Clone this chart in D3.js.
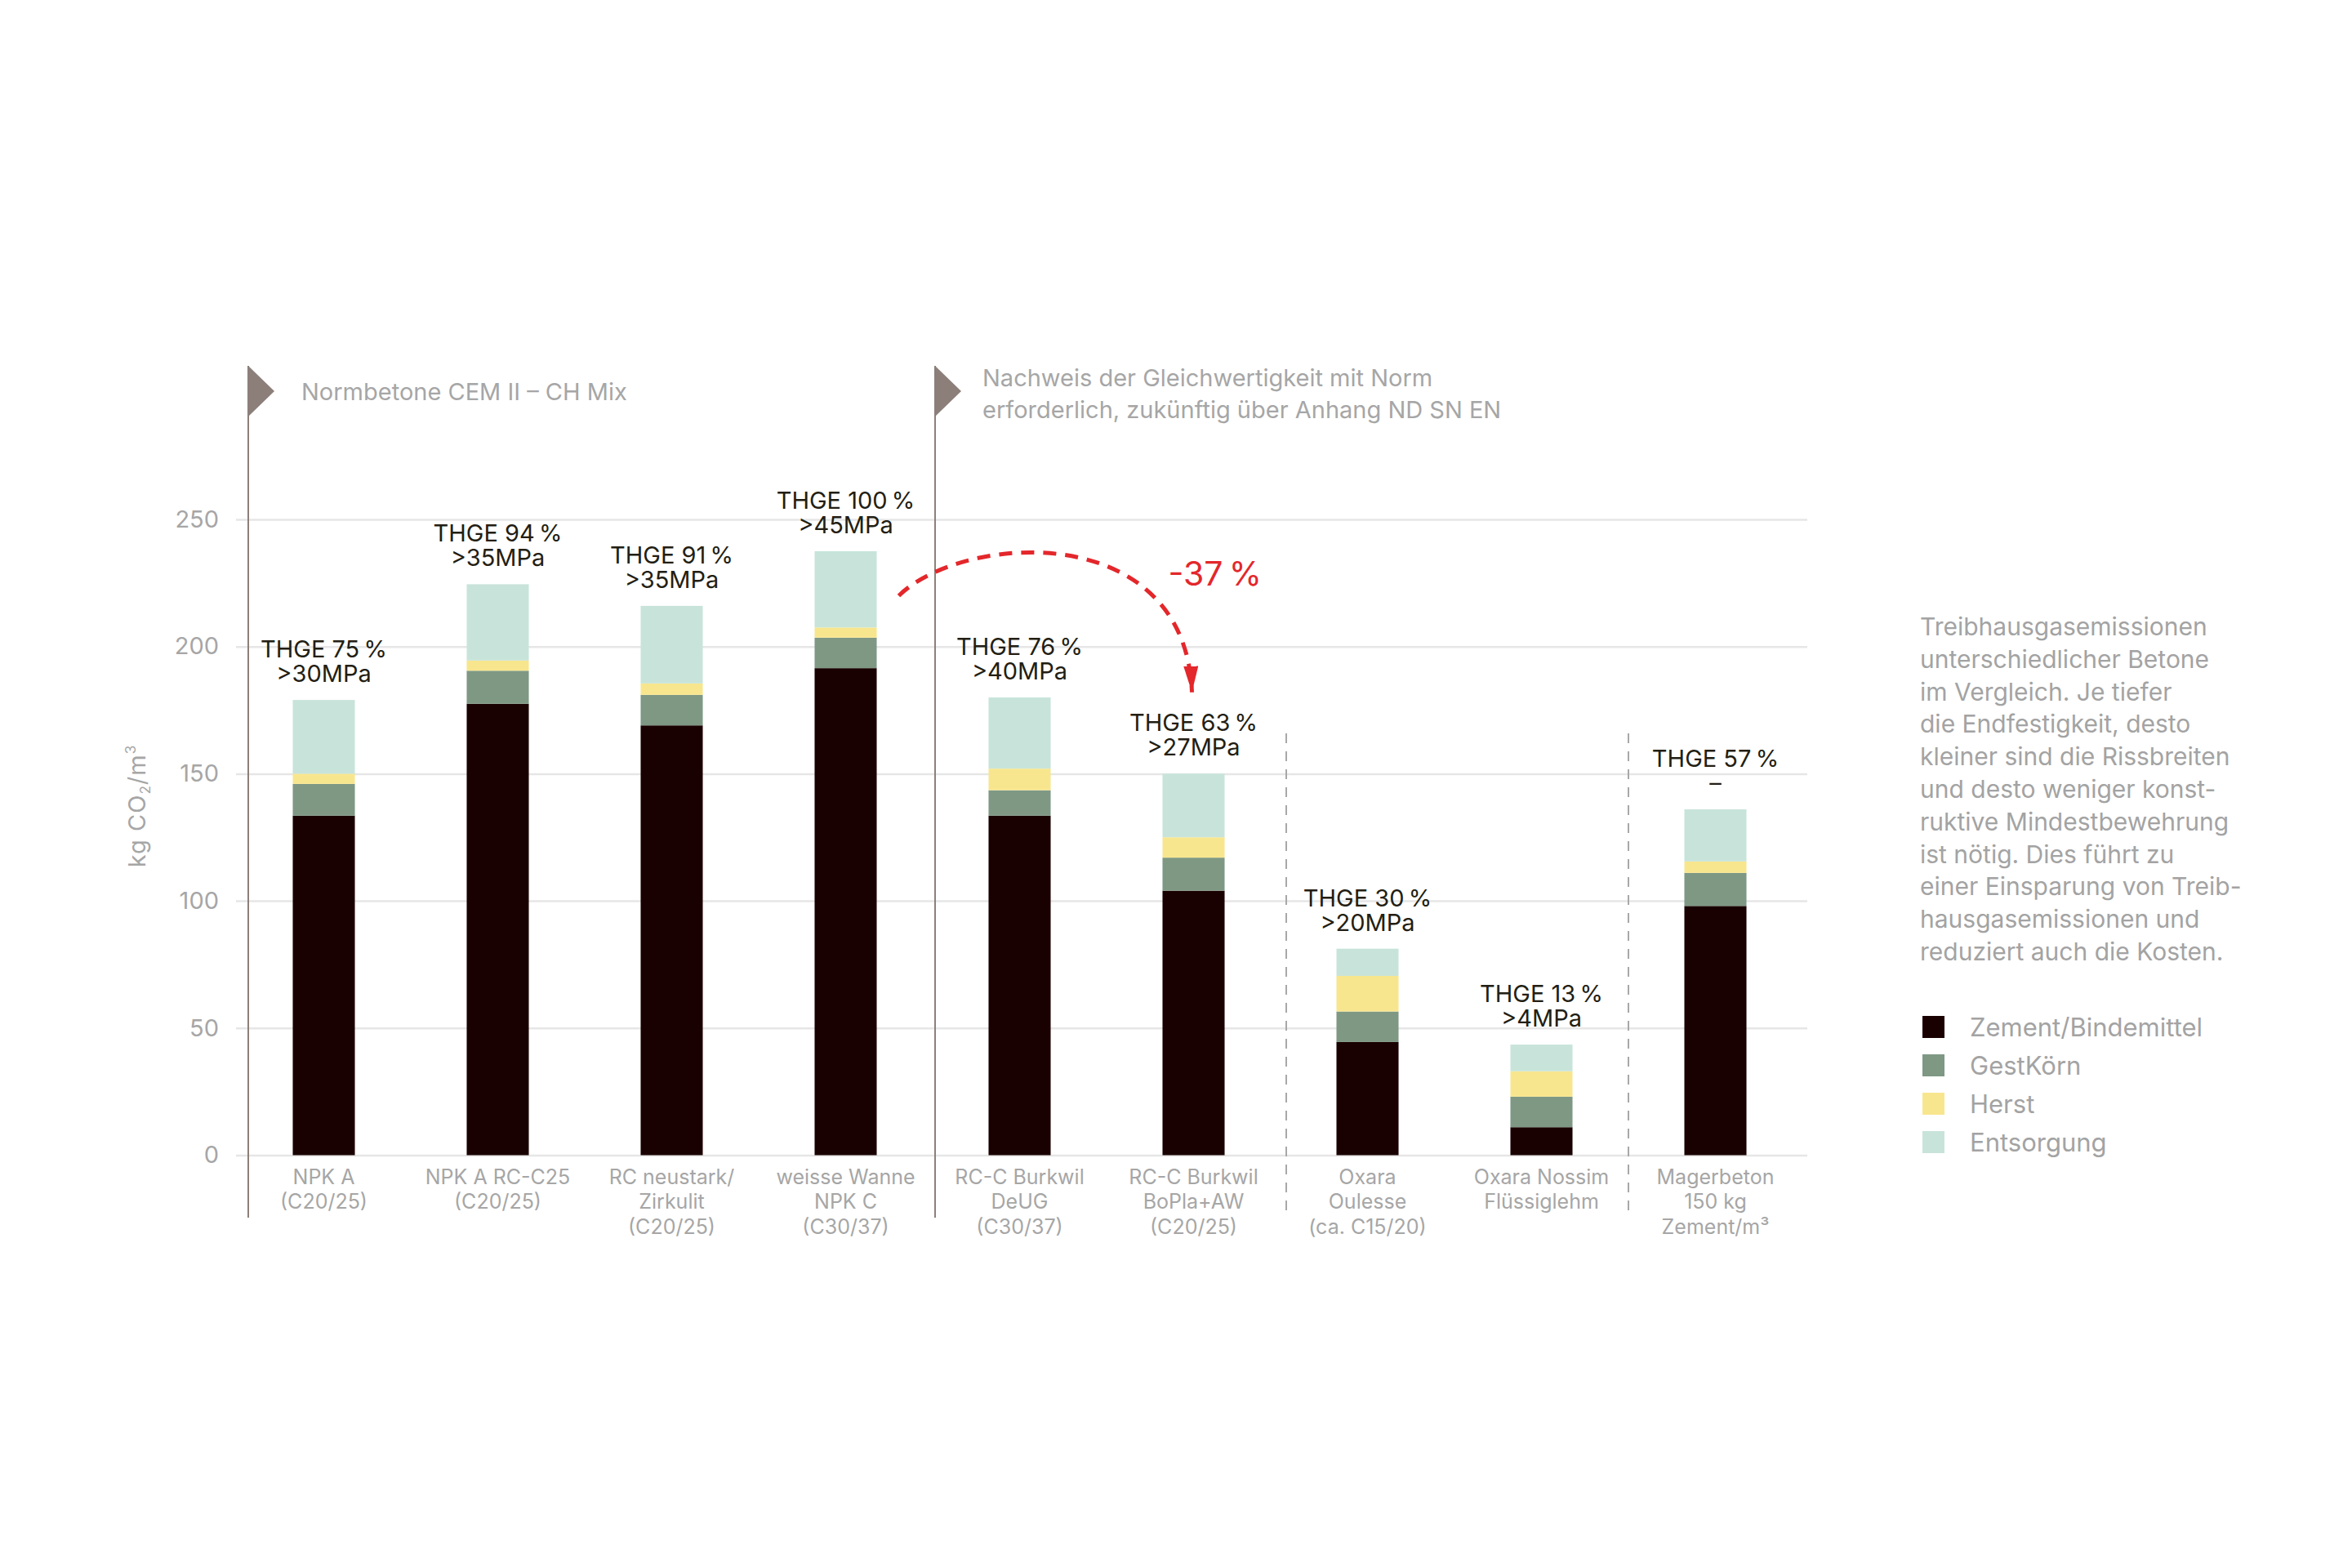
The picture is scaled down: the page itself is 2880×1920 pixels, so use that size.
<!DOCTYPE html>
<html>
<head>
<meta charset="utf-8">
<script src="https://cdn.jsdelivr.net/npm/d3@7"></script>
<style>
  body { margin: 0; background: #fff; }
  text { font-family: Inter, "Noto Sans", sans-serif; }
</style>
</head>
<body>
<div class="chart"></div>
<script>
// data
const categories = ["NPK A", "NPK A RC-C25", "RC neustark", "weisse Wanne", "Burkwil DeUG", "Burkwil BoPla", "Oxara Oulesse", "Oxara Nossim", "Magerbeton"]
const catLabels = [
  ["NPK A", "(C20/25)"],
  ["NPK A RC-C25", "(C20/25)"],
  ["RC neustark/", "Zirkulit", "(C20/25)"],
  ["weisse Wanne", "NPK C", "(C30/37)"],
  ["RC-C Burkwil", "DeUG", "(C30/37)"],
  ["RC-C Burkwil", "BoPla+AW", "(C20/25)"],
  ["Oxara", "Oulesse", "(ca. C15/20)"],
  ["Oxara Nossim", "Flüssiglehm"],
  ["Magerbeton", "150 kg", "Zement/m³"]
]
const zement     = [133.5, 177.5, 169, 191.5, 133.5, 104, 44.5, 11, 98]
const gestkorn   = [12.5, 13, 12, 12, 10, 13, 12, 12, 13]
const herst      = [4, 4, 4.5, 4, 8.5, 8, 14, 10, 4.5]
const entsorgung = [29, 30, 30.5, 30, 28, 25, 10.7, 10.5, 20.5]
const thge = [75, 94, 91, 100, 76, 63, 30, 13, 57]
const mpa  = [">30MPa", ">35MPa", ">35MPa", ">45MPa", ">40MPa", ">27MPa", ">20MPa", ">4MPa", "–"]
const seriesNames = ["Zement/Bindemittel", "GestKörn", "Herst", "Entsorgung"]
const yTicks = [0, 50, 100, 150, 200, 250]

const paragraph = [
  "Treibhausgasemissionen",
  "unterschiedlicher Betone",
  "im Vergleich. Je tiefer",
  "die Endfestigkeit, desto",
  "kleiner sind die Rissbreiten",
  "und desto weniger konst-",
  "ruktive Mindestbewehrung",
  "ist nötig. Dies führt zu",
  "einer Einsparung von Treib-",
  "hausgasemissionen und",
  "reduziert auch die Kosten."
]

const colors = ["#1a0101", "#7e9884", "#f8e68e", "#c8e4da"]

const w = 2880
const h = 1920

const svg = d3.select(".chart")
  .append("svg")
  .attr("width", w)
  .attr("height", h)
  .style("background-color", "#fff")

// table for the stack
const rows = categories.map((c, i) => ({
  cat: c,
  "Zement/Bindemittel": zement[i],
  "GestKörn": gestkorn[i],
  "Herst": herst[i],
  "Entsorgung": entsorgung[i]
}))
const stacked = d3.stack().keys(seriesNames)(rows)
const totals = rows.map(r => seriesNames.reduce((s, k) => s + r[k], 0))

const xScale = d3.scaleBand()
  .domain(categories)
  .range([290, 2207])
  .paddingInner(0.643)
  .paddingOuter(0.3215)

const yScale = d3.scaleLinear()
  .domain([0, 250])
  .range([1414.5, 636])

const bw = xScale.bandwidth()
const step = xScale.step()
const xc = i => xScale(categories[i]) + bw / 2
const gapLeft = i => xScale(categories[i]) - (step - bw) / 2

// grid + y axis
const yAxis = d3.axisLeft(yScale)
  .tickValues(yTicks)
  .tickSize(-1924)
  .tickPadding(21)

const gy = svg.append("g")
  .attr("transform", "translate(289,0)")
  .call(yAxis)
gy.select(".domain").remove()
gy.selectAll(".tick line").attr("stroke", "#e6e6e6").attr("stroke-width", 2.5)
gy.selectAll(".tick text")
  .attr("fill", "#a6a6a6")
  .style("font-size", "29px")
  .style("font-family", "Inter, sans-serif")

// y axis title
svg.append("text")
  .attr("transform", "translate(178,987) rotate(-90)")
  .attr("text-anchor", "middle")
  .attr("fill", "#a6a6a6")
  .style("font-size", "29px")
  .style("letter-spacing", "1px")
  .call(t => {
    t.append("tspan").text("kg CO")
    t.append("tspan").text("2").style("font-size", "17px").attr("dy", 6)
    t.append("tspan").text("/m").attr("dy", -6)
    t.append("tspan").text("3").style("font-size", "17px").attr("dy", -12)
  })

// section lines (solid) with flags
const solidX = [xScale.range()[0] + 14, gapLeft(4) + 3]
solidX.forEach(x => {
  svg.append("line")
    .attr("x1", x).attr("x2", x)
    .attr("y1", 448).attr("y2", 1491)
    .attr("stroke", "#8c807a").attr("stroke-width", 2)
  svg.append("path")
    .attr("d", `M${x},448 L${x + 32},479 L${x},510 Z`)
    .attr("fill", "#8c7f79")
})

// dashed separators
const dashedX = [gapLeft(6) + 7, gapLeft(8)]
dashedX.forEach(x => {
  svg.append("line")
    .attr("x1", x).attr("x2", x)
    .attr("y1", 898).attr("y2", 1491)
    .attr("stroke", "#a8a8a8").attr("stroke-width", 2)
    .attr("stroke-dasharray", "12,10")
})

// section headings
svg.append("text")
  .attr("x", solidX[0] + 65).attr("y", 490)
  .attr("fill", "#a6a6a6")
  .style("font-size", "29px")
  .text("Normbetone CEM II – CH Mix")

svg.append("text")
  .attr("x", solidX[1] + 58).attr("y", 473)
  .attr("fill", "#a6a6a6")
  .style("font-size", "29px")
  .selectAll("tspan")
  .data(["Nachweis der Gleichwertigkeit mit Norm", "erforderlich, zukünftig über Anhang ND SN EN"])
  .enter()
  .append("tspan")
    .attr("x", solidX[1] + 58)
    .attr("dy", (d, i) => i === 0 ? 0 : 39)
    .text(d => d)

// stacked bars
svg.append("g")
  .selectAll("g")
  .data(stacked)
  .enter()
  .append("g")
    .attr("fill", (d, i) => colors[i])
  .selectAll("rect")
  .data(d => d)
  .enter()
  .append("rect")
    .attr("x", d => xScale(d.data.cat))
    .attr("y", d => yScale(d[1]))
    .attr("width", bw)
    .attr("height", d => yScale(d[0]) - yScale(d[1]))

// annotations above bars
const ann = svg.append("g")
  .attr("fill", "#231e13")
  .attr("text-anchor", "middle")
  .style("font-size", "29px")
categories.forEach((c, i) => {
  const top = yScale(totals[i])
  ann.append("text")
    .attr("x", xc(i)).attr("y", top - 52)
    .text(`THGE ${thge[i]}\u202F%`)
  ann.append("text")
    .attr("x", xc(i)).attr("y", top - 22)
    .text(mpa[i])
})

// category labels
const cl = svg.append("g")
  .attr("fill", "#a6a6a6")
  .attr("text-anchor", "middle")
  .style("font-size", "25px")
catLabels.forEach((lines, i) => {
  lines.forEach((l, j) => {
    cl.append("text")
      .attr("x", xc(i))
      .attr("y", yScale(0) + 35 + j * 30.5)
      .text(l)
  })
})

// -37 % arrow from bar 4 to bar 6
svg.append("defs").append("marker")
  .attr("id", "arrow")
  .attr("markerUnits", "userSpaceOnUse")
  .attr("viewBox", "0 0 32 18")
  .attr("markerWidth", 32).attr("markerHeight", 18)
  .attr("refX", 32).attr("refY", 9)
  .attr("orient", "auto")
  .append("path")
    .attr("d", "M0,0 L32,9 L0,18 Z")
    .attr("fill", "#e3272b")

const p = d3.path()
p.moveTo(xc(3) + 65, yScale(220))
p.bezierCurveTo(xc(3) + 145, yScale(245), xc(5) - 10, yScale(250), xc(5) - 2, yScale(182))
svg.append("path")
  .attr("d", p.toString())
  .attr("fill", "none")
  .attr("stroke", "#e3272b")
  .attr("stroke-width", 5)
  .attr("stroke-dasharray", "16,11")
  .attr("marker-end", "url(#arrow)")

svg.append("text")
  .attr("x", xc(5) - 31).attr("y", yScale(224))
  .attr("fill", "#e3272b")
  .style("font-size", "41px")
  .text("-37\u202F%")

// side text
svg.append("text")
  .attr("fill", "#a3a3a3")
  .style("font-size", "30px")
  .selectAll("tspan")
  .data(paragraph)
  .enter()
  .append("tspan")
    .attr("x", 2351)
    .attr("y", (d, i) => 778 + i * 39.8)
    .text(d => d)

// legend
const legend = svg.append("g")
seriesNames.forEach((s, i) => {
  legend.append("rect")
    .attr("x", 2354).attr("y", 1244 + i * 47)
    .attr("width", 27).attr("height", 27)
    .attr("fill", colors[i])
  legend.append("text")
    .attr("x", 2412).attr("y", 1269 + i * 47)
    .attr("fill", "#a3a3a3")
    .style("font-size", "31px")
    .text(s)
})
</script>
</body>
</html>
